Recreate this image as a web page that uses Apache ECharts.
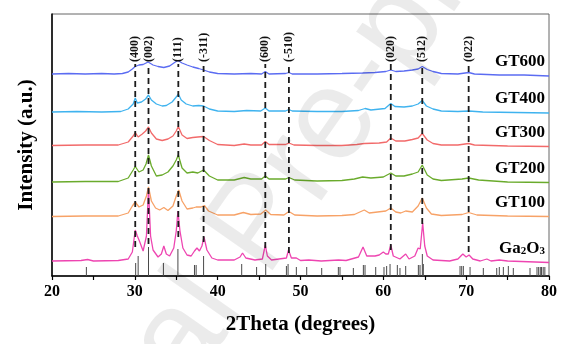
<!DOCTYPE html>
<html>
<head>
<meta charset="utf-8">
<script src="https://cdn.jsdelivr.net/npm/echarts@6/dist/echarts.min.js"></script>
<style>
  html, body { margin: 0; padding: 0; background: #fff; }
  #chart { width: 576px; height: 344px; }
</style>
</head>
<body>
<div id="chart"></div>
<script>
// XRD patterns, stacked with vertical offsets (intensity in arbitrary units)
const sampleNames = ['GT600', 'GT400', 'GT300', 'GT200', 'GT100', 'Ga2O3'];
const sampleColors = ['#5b6cf2', '#3fb3ef', '#f26a6a', '#6aab2c', '#f7a267', '#ee45b1'];

const gt600 = [[20,202],[22,202.5],[24,202],[26,202.5],[27.5,202],[28.5,202.5],[29.2,204],[29.7,207],[30.05,209.5],[30.5,211],[31.0,211.5],[31.6,214],[32.2,211],[32.8,209.5],[33.5,208.5],[34.2,210],[34.8,213.5],[35.2,215.5],[35.7,213],[36.3,211],[37.0,209],[37.7,207.5],[38.3,206],[39.0,204],[40.0,202.5],[42,202],[44,202.5],[45.3,202],[45.75,204.5],[46.2,202],[48.2,202.5],[48.6,203.5],[49.0,202],[52,202],[55,202.5],[57.5,203],[59,203.5],[60.3,204.5],[60.9,206],[61.5,204.5],[62.5,205],[63.5,206],[64.2,207],[64.7,209.5],[65.3,206.5],[66,204.5],[67,202.5],[69,202],[70.3,203.5],[71,202],[74,201],[77,201],[80,200]];

const gt400 = [[20,164],[23,164.5],[26,164],[28.3,164.5],[29.2,167],[29.8,172],[30.05,178],[30.3,173],[30.8,174],[31.3,177],[31.65,181],[32.0,176],[32.6,172],[33.3,170],[33.8,170.5],[34.5,174],[35.0,179],[35.25,182],[35.6,176],[36.2,172],[37.0,170],[37.7,170.5],[38.3,170],[39.0,167],[40.0,165],[42,164.5],[43.5,165.5],[45.2,165],[45.75,168],[46.2,165],[48.2,165],[48.6,166.5],[49.0,165],[52,164.5],[55,164.5],[57.0,165.5],[57.8,167.5],[58.5,166],[60.2,167.5],[60.9,172.5],[61.4,169.5],[62.5,169],[63.5,170],[64.2,172],[64.7,175.5],[65.2,170],[66,167],[67,165],[69,164.5],[70.3,165],[72,164],[76,163.5],[80,163]];

const gt300 = [[20,130.5],[24,131],[28,131],[29.2,134],[29.8,140],[30.05,143.5],[30.4,139],[30.9,142],[31.3,145],[31.65,149],[32.0,143],[32.6,137],[33.3,135.5],[34.0,137],[34.6,140],[35.0,145],[35.25,149.5],[35.7,141],[36.3,137.5],[37.0,138.5],[37.6,139],[38.3,139.5],[39.0,135.5],[40,131.5],[42,130.5],[43.2,132],[44,131],[45.3,131],[45.75,134.5],[46.2,131.5],[48.2,131.5],[48.6,133],[49.2,131],[52,130.5],[55,130.5],[56.8,131.5],[57.7,132.5],[59.5,133],[60.4,134],[60.9,138],[61.5,135],[62.6,135],[63.5,136.5],[64.2,138],[64.7,142.5],[65.3,136],[66,132.5],[67,131],[69,131],[70.3,132.5],[71,131],[75,130],[80,129.5]];

const gt200 = [[20,94],[24,94.5],[28,94.5],[29.2,98],[29.8,106],[30.05,109.5],[30.5,104],[31.0,106],[31.35,112],[31.65,121],[32.0,110],[32.6,100],[33.3,101],[34.0,104],[34.6,110],[35.0,116],[35.25,121],[35.7,108],[36.3,103],[37.0,104],[37.6,103],[38.3,106],[39.0,100],[40,96],[42,96],[43.2,98.5],[44,97],[45.3,97],[45.75,100],[46.2,97],[48.2,97],[48.6,98.5],[49.3,96],[52,95],[55,95.5],[56.5,97],[57.5,99],[58.5,98],[60,99],[60.9,103],[61.5,100],[62.5,100],[63.5,102],[64.2,104],[64.7,111],[65.3,101],[66,97],[67,95.5],[69.5,97],[70.3,98],[71.5,96],[75,94],[80,93.5]];

const gt100 = [[20,59.5],[24,60],[28,60],[29.2,63],[29.7,70],[30.05,74],[30.5,69],[31.0,71],[31.4,80],[31.65,89],[32.0,75],[32.5,68],[33.0,66],[33.5,68.5],[34.0,65.5],[34.6,70],[35.0,80],[35.3,86],[35.7,75],[36.3,67],[37.0,68],[37.4,69],[38.0,69],[38.4,70.5],[38.9,65],[40,61],[42,61],[43.1,63.5],[44,61.5],[45.2,62],[45.8,66],[46.4,61.5],[48.0,61],[48.6,64.5],[49.3,61],[52,60],[55,60.5],[56.5,61.5],[57.7,66],[58.3,63],[59.3,64],[60.3,65],[60.9,68],[61.5,64],[62.1,63],[62.7,65],[63.5,64],[64.2,70],[64.7,78],[65.2,68],[65.8,62],[67,60.5],[69.5,61.5],[70.3,63.5],[71.3,61],[75,60],[80,59.5]];

const ga2o3 = [[20,15],[23.5,15.5],[24.3,16.5],[25,15],[28,15.5],[29.2,17],[29.7,24],[30.05,46],[30.3,40],[30.6,34],[31.0,25],[31.4,40],[31.65,87],[31.9,40],[32.2,26],[32.8,19],[33.2,22],[33.5,30],[33.8,22],[34.2,20],[34.7,28],[35.0,45],[35.2,65],[35.45,45],[35.8,28],[36.3,21],[36.8,20],[37.2,25],[37.35,26],[37.5,28],[37.8,25],[38.1,30],[38.35,39],[38.7,26],[39.3,18],[40,16],[42,16],[42.7,19],[43.0,23],[43.4,18],[44.5,16],[45.4,17],[45.75,31],[46.0,20],[46.5,16],[48.3,18],[48.55,26],[48.9,18],[49.5,18],[50,15.5],[51,16],[52.5,15],[54.6,16],[55.5,15.5],[57.0,19],[57.55,29],[58.0,20],[59.0,20],[59.5,21],[60.0,24],[60.3,22],[60.6,22],[60.9,31],[61.2,20],[62.0,17],[62.7,22],[63.1,17],[63.8,20],[64.2,28],[64.45,27],[64.75,53],[65.0,30],[65.3,20],[66,16],[68,15],[69.0,17],[69.6,22],[70.0,19],[70.35,21],[70.8,17],[71.7,15],[72.5,17],[73.0,15],[74.0,16],[75,15],[80,13.5]];

const sampleData = [gt600, gt400, gt300, gt200, gt100, ga2o3];

// Indexed reflections marked with guide lines
const peakPos    = [30.05, 31.65, 35.25, 38.3, 45.75, 48.6, 60.9, 64.7, 70.3];
const peakLabels = ['(400)', '(002)', '(111)', '(-311)', '(600)', '(-510)', '(020)', '(512)', '(022)'];
const peakGuideLow = [29, 32, 39, 34, 28, 23, 26, 52, 24];
const peakGuideHigh = 212;

// Reference pattern (stick lines)
const refPos = [24.15, 30.1, 30.4, 31.65, 33.45, 35.2, 37.2, 37.4, 38.3, 42.9, 44.7, 45.8, 48.3, 48.5, 49.5, 50.75, 52.56, 54.57, 54.77, 56.38, 57.59, 57.79, 59.08, 60.08, 60.4, 60.81, 61.69, 62.01, 62.7, 64.23, 64.43, 64.71, 64.83, 69.26, 69.46, 69.66, 70.47, 72.07, 73.69, 74.0, 74.49, 75.09, 75.69, 77.71, 78.55, 78.75, 78.95, 79.1, 79.3, 79.5];
const refInt = [9, 13, 20, 29, 13, 27, 11, 11, 20, 12, 9, 12, 10, 12, 9, 9, 8, 9, 9, 8, 11, 11, 9, 9, 10, 12, 11, 8, 10, 11, 11, 22, 12, 10, 10, 10, 9, 8, 8, 9, 9, 10, 8, 8, 9, 9, 9, 9, 9, 9];

const xMin = 20, xMax = 80, xStep = 10;
const yMax = 262;

const serif = '"Liberation Serif", "Times New Roman", serif';
const chart = echarts.init(document.getElementById('chart'), null, { renderer: 'canvas' });

const lineSeries = sampleData.map((d, i) => ({
  type: 'line',
  name: sampleNames[i],
  data: d,
  showSymbol: false,
  smooth: false,
  lineStyle: { color: sampleColors[i], width: 1.3 },
  z: 3
}));

// sample name written just above the right end of each trace
const nameSeries = {
  type: 'custom',
  silent: true,
  z: 6,
  data: sampleData.map((d, i) => [xMax, d[d.length - 1][1], i]),
  encode: { x: 0, y: 1 },
  renderItem: (params, api) => {
    const p = api.coord([api.value(0), api.value(1)]);
    const i = api.value(2);
    const isOxide = sampleNames[i] === 'Ga2O3';
    return {
      type: 'text',
      x: p[0] - 4,
      y: p[1] - 14,
      style: {
        text: isOxide ? '{m|Ga}{s|2}{m|O}{s|3}' : sampleNames[i],
        rich: {
          m: { font: 'bold 17px ' + serif, fill: '#000' },
          s: { font: 'bold 11px ' + serif, fill: '#000', verticalAlign: 'bottom', padding: [5, 0, 0, 0] }
        },
        font: 'bold 17px ' + serif,
        fill: '#000',
        align: 'right',
        verticalAlign: 'middle'
      }
    };
  }
};

const stickSeries = {
  type: 'custom',
  silent: true,
  z: 2,
  data: refPos.map((p, i) => [p, refInt[i]]),
  encode: { x: 0, y: 1 },
  renderItem: (params, api) => {
    const a = api.coord([api.value(0), 0]);
    const b = api.coord([api.value(0), api.value(1)]);
    return {
      type: 'line',
      shape: { x1: a[0], y1: a[1], x2: b[0], y2: b[1] },
      style: { stroke: '#4a4a4a', lineWidth: 1 }
    };
  }
};

const guideSeries = {
  type: 'custom',
  silent: true,
  z: 5,
  data: peakPos.map((p, i) => [p, peakGuideLow[i], peakGuideHigh, i]),
  encode: { x: 0, y: [1, 2] },
  renderItem: (params, api) => {
    const a = api.coord([api.value(0), api.value(1)]);
    const b = api.coord([api.value(0), api.value(2)]);
    return {
      type: 'group',
      children: [
        {
          type: 'line',
          shape: { x1: a[0], y1: a[1], x2: b[0], y2: b[1] },
          style: { stroke: '#1c1c1c', lineWidth: 1.8, lineDash: [6, 4] }
        },
        {
          type: 'text',
          x: b[0],
          y: b[1] - 2,
          rotation: Math.PI / 2,
          style: {
            text: peakLabels[api.value(3)],
            font: 'bold 12px ' + serif,
            fill: '#111',
            align: 'left',
            verticalAlign: 'middle'
          }
        }
      ]
    };
  }
};

chart.setOption({
  animation: false,
  backgroundColor: '#fff',
  grid: {
    left: 52, right: 27, top: 14, bottom: 68,
    show: true, borderColor: '#666', borderWidth: 1, backgroundColor: 'transparent'
  },
  xAxis: {
    type: 'value',
    min: xMin, max: xMax, interval: xStep,
    name: '2Theta (degrees)',
    nameLocation: 'middle',
    nameGap: 38,
    nameTextStyle: { fontFamily: serif, fontWeight: 'bold', fontSize: 21, color: '#000' },
    axisLine: { show: true, onZero: false, lineStyle: { color: '#000', width: 1.5 } },
    axisTick: { show: true, inside: false, length: 4, lineStyle: { color: '#000', width: 1.2 } },
    minorTick: { show: true, splitNumber: 2, length: 4, lineStyle: { color: '#000', width: 1.2 } },
    axisLabel: { fontFamily: serif, fontWeight: 'bold', fontSize: 16, color: '#000', margin: 8 },
    splitLine: { show: false },
    minorSplitLine: { show: false }
  },
  yAxis: {
    type: 'value',
    min: 0, max: yMax,
    name: 'Intensity (a.u.)',
    nameLocation: 'middle',
    nameGap: 15,
    nameTextStyle: { fontFamily: serif, fontWeight: 'bold', fontSize: 21, color: '#000' },
    axisLine: { show: true, onZero: false, lineStyle: { color: '#000', width: 1.5 } },
    axisTick: { show: false },
    axisLabel: { show: false },
    splitLine: { show: false }
  },
  graphic: [{
    type: 'text',
    x: 260, y: 226,
    rotation: 55 * Math.PI / 180,
    z: 100,
    silent: true,
    style: {
      text: 'Journal Pre-proof',
      font: '130px "Liberation Sans", Arial, sans-serif',
      fill: 'rgba(0,0,0,0.08)',
      align: 'center',
      verticalAlign: 'middle'
    }
  }],
  series: [stickSeries, ...lineSeries, guideSeries, nameSeries]
});
</script>
</body>
</html>
